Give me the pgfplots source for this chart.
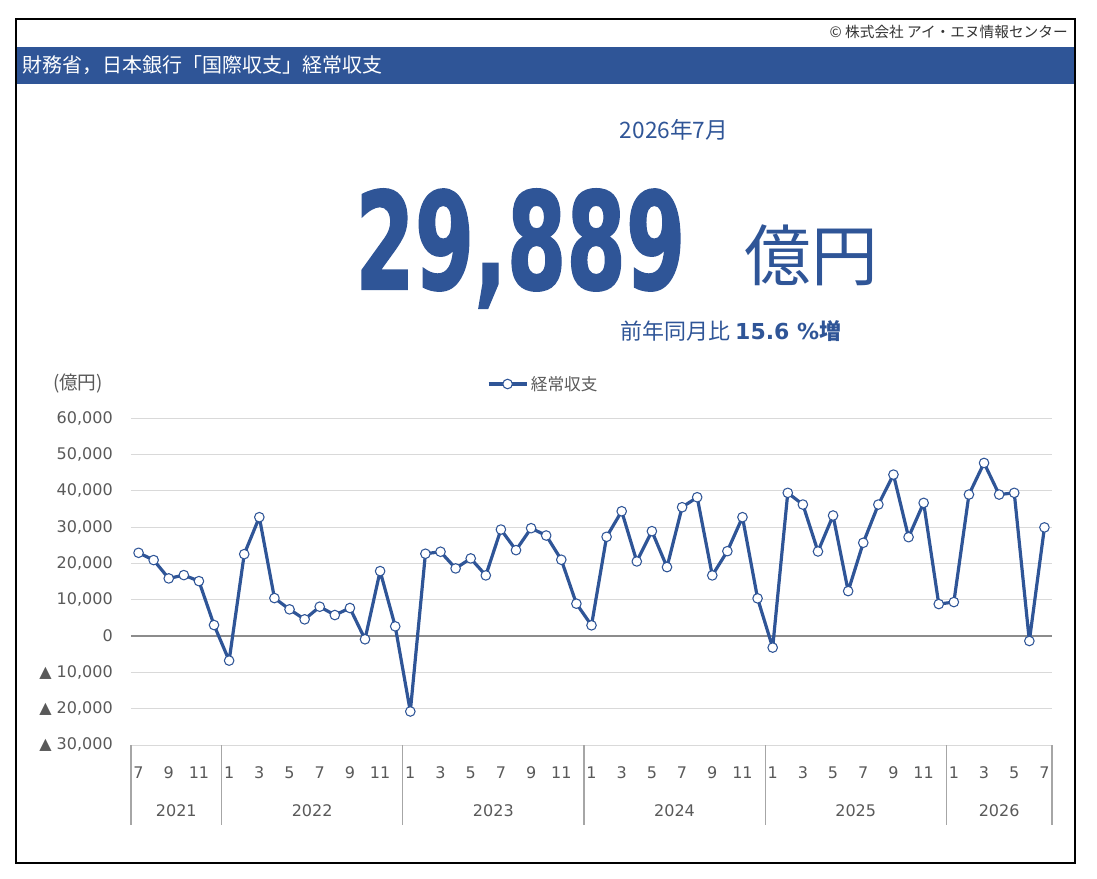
\documentclass[border=0pt]{standalone}
\usepackage{pgfplots}
\pgfplotsset{compat=1.18}
\usepackage{graphicx}
\usepackage{fontspec}
\newfontfamily\jp{Noto Sans CJK JP}
\newfontfamily\dv{DejaVu Sans}
\newfontfamily\bignum{DejaVu Sans}[UprightFont=* Bold, FakeBold=1.5]
\definecolor{ieblue}{HTML}{2F5597}
\definecolor{txtgray}{HTML}{595959}
\definecolor{gridgray}{HTML}{D9D9D9}
\definecolor{sepgray}{HTML}{A6A6A6}
\definecolor{zerogray}{HTML}{8C8C8C}
\pgfplotstableread{
idx val
0 22900
1 20900
2 15850
3 16760
4 15100
5 3020
6 -6770
7 22530
8 32700
9 10440
10 7330
11 4580
12 8060
13 5770
14 7700
15 -900
16 17860
17 2660
18 -20770
19 22640
20 23190
21 18600
22 21350
23 16680
24 29300
25 23630
26 29670
27 27660
28 20990
29 8900
30 2940
31 27300
32 34340
33 20520
34 28850
35 18960
36 35440
37 38190
38 16680
39 23350
40 32700
41 10360
42 -3190
43 39400
44 36180
45 23270
46 33160
47 12360
48 25660
49 36180
50 44420
51 27200
52 36640
53 8790
54 9340
55 38930
56 47630
57 38930
58 39400
59 -1370
60 29889
}\datatable
\begin{document}
\begin{tikzpicture}[x=0.75pt,y=0.75pt]
\begin{axis}[
  scale only axis, width=690.75pt, height=245.25pt,
  xmin=-0.5, xmax=60.5, ymin=-30000, ymax=60000,
  scaled y ticks=false, scaled x ticks=false,
  ytick={-30000,-20000,-10000,0,10000,20000,30000,40000,50000,60000},
  yticklabels={▲ 30{,}000,▲ 20{,}000,▲ 10{,}000,0,10{,}000,20{,}000,30{,}000,40{,}000,50{,}000,60{,}000},
  xtick={0,2,...,60},
  xticklabels={7,9,11,1,3,5,7,9,11,1,3,5,7,9,11,1,3,5,7,9,11,1,3,5,7,9,11,1,3,5,7},
  ymajorgrids, grid style={draw=gridgray, line width=0.75pt},
  axis line style={draw=none}, major tick length=0pt,
  yticklabel style={font=\dv\fontsize{12}{14}\selectfont, text=txtgray, anchor=east, inner sep=0pt, xshift=-13.5pt},
  xticklabel style={font=\dv\fontsize{12}{14}\selectfont, text=txtgray, anchor=center, inner sep=0pt, yshift=-21pt},
  clip=false,
  legend style={at={(0.448,1.104)}, anchor=center, draw=none, fill=none, font=\jp\fontsize{12.5}{15}\selectfont, text=txtgray, inner sep=0pt},
  legend image code/.code={\draw[mark repeat=2,mark phase=2,#1] plot coordinates {(0cm,0cm) (0.5cm,0cm) (1cm,0cm)};},
]
\addplot[draw=zerogray, line width=1pt, no marks, forget plot] coordinates {(-0.5,0) (60.5,0)};
\addplot[color=ieblue, line width=2.4pt, line join=round, mark=*, mark size=3.6pt, mark options={fill=white, draw=ieblue, line width=0.8pt}] table[x=idx, y=val] {\datatable};
\addlegendentry{経常収支}
\foreach \s in {-0.5,5.5,17.5,29.5,41.5,53.5,60.5} {
  \edef\temp{\noexpand\draw[sepgray, line width=0.9pt] (axis cs:\s,-30000) -- ++(0pt,-60pt);}
  \temp
}
\node[font=\dv\fontsize{12}{14}\selectfont, text=txtgray] at (axis cs:2.5,-30000) [yshift=-49.5pt] {2021};
\node[font=\dv\fontsize{12}{14}\selectfont, text=txtgray] at (axis cs:11.5,-30000) [yshift=-49.5pt] {2022};
\node[font=\dv\fontsize{12}{14}\selectfont, text=txtgray] at (axis cs:23.5,-30000) [yshift=-49.5pt] {2023};
\node[font=\dv\fontsize{12}{14}\selectfont, text=txtgray] at (axis cs:35.5,-30000) [yshift=-49.5pt] {2024};
\node[font=\dv\fontsize{12}{14}\selectfont, text=txtgray] at (axis cs:47.5,-30000) [yshift=-49.5pt] {2025};
\node[font=\dv\fontsize{12}{14}\selectfont, text=txtgray] at (axis cs:57,-30000) [yshift=-49.5pt] {2026};
\coordinate (O) at (rel axis cs:0,0);
\end{axis}
\begin{scope}[shift={(O)}, shift={(-131,-134)}]
\path[use as bounding box] (0,0) rectangle (1097,879);
% frame and title bar
\fill[ieblue] (17,879-47) rectangle (1074,879-84.5);
\draw[black, line width=1.5pt] (16.5,879-19.5) rectangle (1074.5,879-862.5);
\node[anchor=west, text=white, font=\jp\fontsize{15}{18}\selectfont, inner sep=0pt] at (22,879-65.5) {財務省，日本銀行「国際収支」経常収支};
\node[anchor=east, text=black!80, font=\jp\fontsize{11}{13}\selectfont, inner sep=0pt] at (1068,879-32) {© 株式会社 アイ・エヌ情報センター};
% headline
\node[anchor=center, text=ieblue, font=\jp\fontsize{17}{20}\selectfont, inner sep=0pt] at (674,879-130) {2026年7月};
\node[anchor=base west, text=ieblue, inner sep=0pt] at (355,879-289) {\resizebox{247.5pt}{75pt}{\bignum 29,889}};
\node[anchor=center, text=ieblue, font=\jp\fontsize{50}{56}\selectfont, inner sep=0pt] at (811,879-255) {億円};
\node[anchor=west, text=ieblue, font=\jp\fontsize{16.5}{20}\selectfont, inner sep=0pt] at (620,879-331) {前年同月比 {\dv\bfseries 15.6 \%}{\bfseries 増}};
\node[anchor=center, text=txtgray, font=\jp\fontsize{14}{16}\selectfont, inner sep=0pt] at (78,879-384) {(億円)};
\end{scope}
\end{tikzpicture}
\end{document}
